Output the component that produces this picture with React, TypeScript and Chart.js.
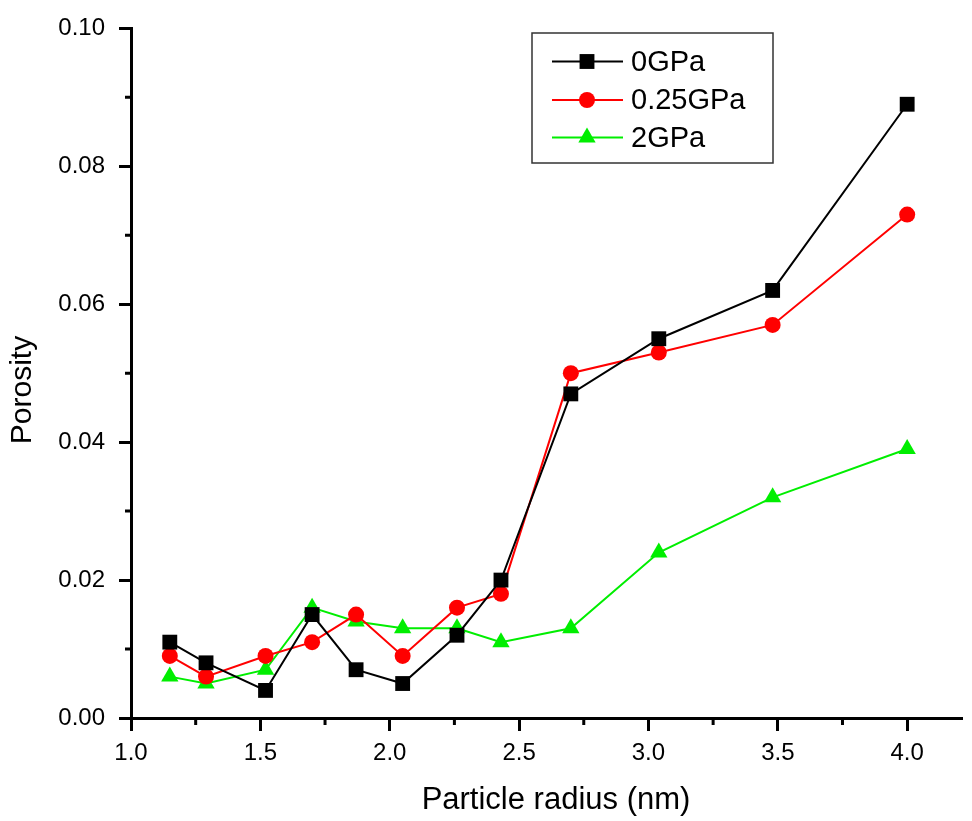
import React, { useEffect, useRef } from "react";
import { Chart, registerables } from "chart.js";

Chart.register(...registerables);

const radius = [1.15, 1.29, 1.52, 1.7, 1.87, 2.05, 2.26, 2.43, 2.7, 3.04, 3.48, 4.0];
const p0GPa = [0.011, 0.008, 0.004, 0.015, 0.007, 0.005, 0.012, 0.02, 0.047, 0.055, 0.062, 0.089];
const p025GPa = [0.009, 0.006, 0.009, 0.011, 0.015, 0.009, 0.016, 0.018, 0.05, 0.053, 0.057, 0.073];
const p2GPa = [0.006, 0.005, 0.007, 0.016, 0.014, 0.013, 0.013, 0.011, 0.013, 0.024, 0.032, 0.039];
const seriesNames = ["0GPa", "0.25GPa", "2GPa"];
const xMinorTicks = [1.25, 1.75, 2.25, 2.75, 3.25, 3.75];
const yMinorTicks = [0.01, 0.03, 0.05, 0.07, 0.09];
const xTitle = "Particle radius (nm)";
const yTitle = "Porosity";

const FONT = '"Liberation Sans", Arial, sans-serif';
const COLORS = ["#000000", "#ff0000", "#00ee00"];
const STYLES = ["rect", "circle", "triangle"];
const RADII = [10.5, 8, 10];

export default function App() {
  const ref = useRef<HTMLCanvasElement>(null);
  useEffect(() => {
    const canvas = ref.current!;
    const series = [p0GPa, p025GPa, p2GPa];
    const datasets = series.map((vals, i) => ({
      label: seriesNames[i],
      data: radius.map((r, j) => ({ x: r, y: vals[j] })),
      showLine: true,
      borderColor: COLORS[i],
      backgroundColor: COLORS[i],
      borderWidth: 2,
      pointStyle: STYLES[i] as any,
      pointRadius: RADII[i],
      pointBorderWidth: 0,
      pointBackgroundColor: COLORS[i],
      clip: false as any,
    }));

    const extras = {
      id: "extras",
      afterDraw(chart: any) {
        const ctx = chart.ctx;
        const xs = chart.scales.x;
        const ys = chart.scales.y;
        const area = chart.chartArea;
        ctx.save();
        // minor ticks
        ctx.strokeStyle = "#000";
        ctx.lineWidth = 3;
        ctx.beginPath();
        xMinorTicks.forEach((v) => {
          const px = xs.getPixelForValue(v);
          ctx.moveTo(px, area.bottom);
          ctx.lineTo(px, area.bottom + 7);
        });
        yMinorTicks.forEach((v) => {
          const py = ys.getPixelForValue(v);
          ctx.moveTo(area.left, py);
          ctx.lineTo(area.left - 6, py);
        });
        ctx.stroke();
        // titles
        ctx.fillStyle = "#000";
        ctx.font = `31px ${FONT}`;
        ctx.textAlign = "center";
        ctx.textBaseline = "middle";
        ctx.fillText(xTitle, 556, 800);
        ctx.save();
        ctx.translate(23, 390);
        ctx.rotate(-Math.PI / 2);
        ctx.font = `30px ${FONT}`;
        ctx.fillText(yTitle, 0, 0);
        ctx.restore();
        // legend
        ctx.strokeStyle = "#333";
        ctx.lineWidth = 1.5;
        ctx.strokeRect(532, 33, 241, 130);
        const rows = [61.5, 100, 137.5];
        rows.forEach((ry, i) => {
          ctx.strokeStyle = COLORS[i];
          ctx.lineWidth = 2;
          ctx.beginPath();
          ctx.moveTo(552, ry);
          ctx.lineTo(623, ry);
          ctx.stroke();
          ctx.fillStyle = COLORS[i];
          const r = RADII[i];
          if (i === 0) {
            const s = r * Math.SQRT1_2;
            ctx.fillRect(587 - s, ry - s, 2 * s, 2 * s);
          } else if (i === 1) {
            ctx.beginPath();
            ctx.arc(587, ry, r, 0, Math.PI * 2);
            ctx.fill();
          } else {
            ctx.beginPath();
            ctx.moveTo(587, ry - r);
            ctx.lineTo(587 + r * 0.866, ry + r / 2);
            ctx.lineTo(587 - r * 0.866, ry + r / 2);
            ctx.closePath();
            ctx.fill();
          }
          ctx.fillStyle = "#000";
          ctx.font = `29px ${FONT}`;
          ctx.textAlign = "left";
          ctx.textBaseline = "middle";
          ctx.fillText(seriesNames[i], 631, ry + 1);
        });
        ctx.restore();
      },
    };

    const chart = new Chart(canvas, {
      type: "scatter",
      data: { datasets: datasets as any },
      options: {
        animation: false,
        responsive: false,
        maintainAspectRatio: false,
        layout: { padding: { top: 26, left: 0, right: 0, bottom: 0 } },
        plugins: { legend: { display: false }, tooltip: { enabled: false } },
        scales: {
          x: {
            type: "linear",
            min: 1.0,
            max: 4.21,
            afterFit: (s: any) => {
              s.height = 103;
            },
            border: { display: true, color: "#000", width: 3 },
            grid: {
              display: true,
              drawOnChartArea: false,
              drawTicks: true,
              tickLength: 13,
              lineWidth: 3,
              color: "#000",
            },
            ticks: {
              stepSize: 0.5,
              includeBounds: false,
              padding: 8,
              color: "#000",
              font: { family: FONT, size: 24 },
              callback: (v: any) => Number(v).toFixed(1),
              maxRotation: 0,
            },
          },
          y: {
            type: "linear",
            min: 0,
            max: 0.1,
            afterFit: (s: any) => {
              s.width = 131;
            },
            border: { display: true, color: "#000", width: 3 },
            grid: {
              display: true,
              drawOnChartArea: false,
              drawTicks: true,
              tickLength: 12,
              lineWidth: 3,
              color: "#000",
            },
            ticks: {
              stepSize: 0.02,
              padding: 14,
              color: "#000",
              font: { family: FONT, size: 24 },
              callback: (v: any) => Number(v).toFixed(2),
            },
          },
        },
      },
      plugins: [extras],
    });
    return () => chart.destroy();
  }, []);

  return (
    <div style={{ position: "absolute", left: 0, top: 0, width: 972, height: 821, background: "#fff" }}>
      <canvas ref={ref} width={972} height={821} style={{ width: 972, height: 821, display: "block" }} />
    </div>
  );
}
